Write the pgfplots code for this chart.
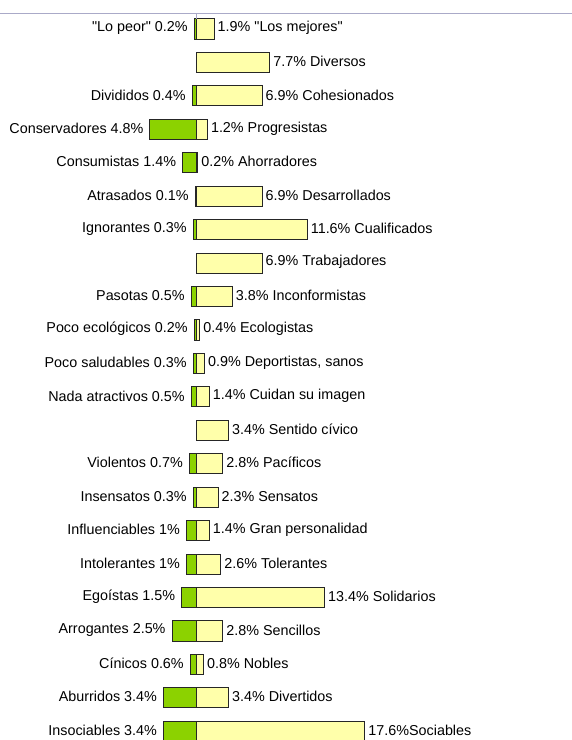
\documentclass[border=0pt]{standalone}
\usepackage{pgfplots}
\pgfplotsset{compat=1.18}
\usepackage{pgfplotstable}
\usepackage{fontspec}
\setmainfont{Liberation Sans}
\newfontfamily\labfont{Liberation Sans}
\definecolor{barG}{HTML}{8CD200}
\definecolor{barY}{HTML}{FFFFAA}
\definecolor{topline}{HTML}{AAAAC8}

\pgfplotstableread[col sep=semicolon]{
y;v;lab
0;1.9;1.9\% "Los mejores"
1;7.7;7.7\% Diversos
2;6.9;6.9\% Cohesionados
3;1.2;1.2\% Progresistas
4;0.2;0.2\% Ahorradores
5;6.9;6.9\% Desarrollados
6;11.6;11.6\% Cualificados
7;6.9;6.9\% Trabajadores
8;3.8;3.8\% Inconformistas
9;0.4;0.4\% Ecologistas
10;0.9;0.9\% Deportistas, sanos
11;1.4;1.4\% Cuidan su imagen
12;3.4;3.4\% Sentido cívico
13;2.8;2.8\% Pacíficos
14;2.3;2.3\% Sensatos
15;1.4;1.4\% Gran personalidad
16;2.6;2.6\% Tolerantes
17;13.4;13.4\% Solidarios
18;2.8;2.8\% Sencillos
19;0.8;0.8\% Nobles
20;3.4;3.4\% Divertidos
21;17.6;17.6\%Sociables
}\postab

\pgfplotstableread[col sep=semicolon]{
y;v;lab
0;-0.2;"Lo peor" 0.2\%
2;-0.4;Divididos 0.4\%
3;-4.8;Conservadores 4.8\%
4;-1.4;Consumistas 1.4\%
5;-0.1;Atrasados 0.1\%
6;-0.3;Ignorantes 0.3\%
8;-0.5;Pasotas 0.5\%
9;-0.2;Poco ecológicos 0.2\%
10;-0.3;Poco saludables 0.3\%
11;-0.5;Nada atractivos 0.5\%
13;-0.7;Violentos 0.7\%
14;-0.3;Insensatos 0.3\%
15;-1;Influenciables 1\%
16;-1;Intolerantes 1\%
17;-1.5;Egoístas 1.5\%
18;-2.5;Arrogantes 2.5\%
19;-0.6;Cínicos 0.6\%
20;-3.4;Aburridos 3.4\%
21;-3.4;Insociables 3.4\%
}\negtab

\begin{document}
\begin{tikzpicture}
\begin{axis}[
  scale only axis,
  width=572bp, height=740bp,
  hide axis,
  xmin=-20.42, xmax=39.17,
  ymin=-0.867, ymax=21.26,
  y dir=reverse,
  xbar,
  bar width=0.6,
  clip=true,
  nodes near coords={\pgfplotspointmeta},
  point meta=explicit symbolic,
  every node near coord/.append style={font=\labfont\fontsize{14.4}{16}\selectfont, text=black, inner sep=0pt, yshift=1bp},
]
\addplot[draw=black!85, line width=1bp, fill=barG, bar shift=0pt,
  every node near coord/.append style={anchor=east, xshift=-6bp}]
  table[x=v, y=y, meta=lab] {\negtab};
\addplot[draw=black!85, line width=1bp, fill=barY, bar shift=0pt,
  every node near coord/.append style={anchor=west, xshift=3bp}]
  table[x=v, y=y, meta=lab] {\postab};
\draw[topline, line width=1bp] (axis cs:-20.42,-0.478) -- (axis cs:39.17,-0.478);
\draw[topline, line width=0.8bp] (axis cs:0,-0.478) -- (axis cs:0,-0.3);
\end{axis}
\pgfresetboundingbox
\path[use as bounding box] (current axis.south west) rectangle (current axis.north east);
\end{tikzpicture}
\end{document}
